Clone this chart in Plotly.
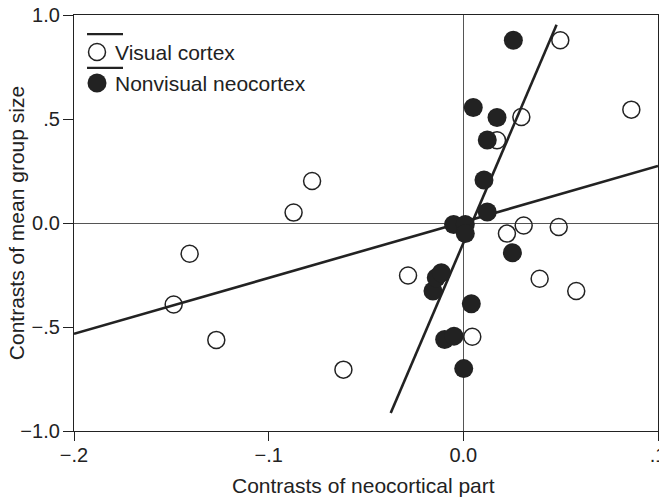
import plotly.graph_objects as go

# ---- data ----
visual_x = [-0.1488, -0.1406, -0.1269, -0.0872, -0.0777, -0.0616, -0.0284, 0.0046, 0.0173,
            0.0224, 0.0298, 0.0310, 0.0392, 0.0490, 0.0498, 0.0580, 0.0863]
visual_y = [-0.392, -0.148, -0.562, 0.050, 0.202, -0.705, -0.252, -0.547, 0.398,
            -0.051, 0.510, -0.012, -0.268, -0.019, 0.879, -0.327, 0.545]

nonvis_x = [-0.0156, -0.0139, -0.0113, -0.0096, -0.0050, -0.0048, 0.0002, 0.0010, 0.0010,
            0.0041, 0.0051, 0.0106, 0.0123, 0.0123, 0.0173, 0.0252, 0.0257]
nonvis_y = [-0.327, -0.263, -0.239, -0.560, -0.007, -0.544, -0.700, -0.007, -0.051,
            -0.388, 0.555, 0.207, 0.399, 0.053, 0.507, -0.143, 0.879]

# regression lines (endpoints)
visual_fit_x = [-0.2, 0.1]
visual_fit_y = [-0.533, 0.274]
nonvis_fit_x = [-0.0373, 0.0479]
nonvis_fit_y = [-0.914, 0.953]

x_tickvals = [-0.2, -0.1, 0.0, 0.1]
x_ticktext = ["\u2212.2", "\u2212.1", "0.0", ".1"]
y_tickvals = [-1.0, -0.5, 0.0, 0.5, 1.0]
y_ticktext = ["\u22121.0", "\u2212.5", "0.0", ".5", "1.0"]

series_names = ["Visual cortex", "Nonvisual neocortex"]
x_title = "Contrasts of neocortical part"
y_title = "Contrasts of mean group size"

INK = "#222222"
FONT = "Liberation Sans, Arial, sans-serif"

fig = go.Figure()

fig.add_trace(go.Scatter(x=visual_fit_x, y=visual_fit_y, mode="lines",
                         line=dict(color=INK, width=2.6), showlegend=False, hoverinfo="skip"))
fig.add_trace(go.Scatter(x=nonvis_fit_x, y=nonvis_fit_y, mode="lines",
                         line=dict(color=INK, width=2.6), showlegend=False, hoverinfo="skip"))

fig.add_trace(go.Scatter(x=visual_x, y=visual_y, mode="markers", name=series_names[0],
                         marker=dict(symbol="circle-open", size=17, color=INK,
                                     line=dict(color=INK, width=1.5)),
                         showlegend=False))
fig.add_trace(go.Scatter(x=nonvis_x, y=nonvis_y, mode="markers", name=series_names[1],
                         marker=dict(symbol="circle", size=19, color=INK,
                                     line=dict(width=0)),
                         showlegend=False))

# ---- hand-made legend (line above each symbol) ----
leg_mx = 0.0394
leg_my = [0.911, 0.8365]
fig.add_trace(go.Scatter(x=[leg_mx], y=[leg_my[0]], xaxis="x2", yaxis="y2", mode="markers",
                         marker=dict(symbol="circle-open", size=17, color=INK,
                                     line=dict(color=INK, width=1.5)),
                         showlegend=False, hoverinfo="skip"))
fig.add_trace(go.Scatter(x=[leg_mx], y=[leg_my[1]], xaxis="x2", yaxis="y2", mode="markers",
                         marker=dict(symbol="circle", size=19, color=INK),
                         showlegend=False, hoverinfo="skip"))
for ly in [0.954, 0.873]:
    fig.add_shape(type="line", xref="paper", yref="paper", x0=0.0223, x1=0.0839, y0=ly, y1=ly,
                  line=dict(color=INK, width=2.2))
for name, my in zip(series_names, leg_my):
    fig.add_annotation(xref="paper", yref="paper", x=0.066, y=my, text=name, showarrow=False,
                       xanchor="left", yanchor="middle", font=dict(family=FONT, size=21, color=INK))

# axis titles as annotations
fig.add_annotation(xref="paper", yref="paper", x=0.495, y=-0.132, text=x_title, showarrow=False,
                   xanchor="center", yanchor="middle", font=dict(family=FONT, size=21, color=INK))
fig.add_annotation(xref="paper", yref="paper", x=-0.099, y=0.5, text=y_title, showarrow=False,
                   textangle=-90, xanchor="center", yanchor="middle",
                   font=dict(family=FONT, size=21, color=INK))

fig.update_layout(
    width=659, height=497,
    margin=dict(l=74, r=1, t=15, b=66, autoexpand=False),
    paper_bgcolor="white", plot_bgcolor="white",
    font=dict(family=FONT, size=20, color=INK),
    xaxis=dict(range=[-0.2, 0.1], tickvals=x_tickvals, ticktext=x_ticktext, automargin=False,
               showgrid=False, zeroline=True, zerolinecolor="#555555", zerolinewidth=1,
               showline=True, linecolor=INK, linewidth=1.3, mirror=True,
               ticks="outside", ticklen=9, tickwidth=1.3, tickcolor=INK, ticklabelstandoff=-3,
               ticklabeloverflow="allow",
               tickfont=dict(family=FONT, size=20, color=INK)),
    yaxis=dict(range=[-1.0, 1.0], tickvals=y_tickvals, ticktext=y_ticktext, automargin=False,
               showgrid=False, zeroline=True, zerolinecolor="#555555", zerolinewidth=1,
               showline=True, linecolor=INK, linewidth=1.3, mirror=True,
               ticks="outside", ticklen=10, tickwidth=1.3, tickcolor=INK, ticklabelstandoff=-1,
               ticklabeloverflow="allow",
               tickfont=dict(family=FONT, size=20, color=INK)),
    xaxis2=dict(overlaying="x", range=[0, 1], visible=False),
    yaxis2=dict(overlaying="y", range=[0, 1], visible=False),
    showlegend=False,
)

fig.write_html("out.html", config={"displayModeBar": False},
               post_script="document.body.style.margin='0';document.body.style.overflow='hidden';")
